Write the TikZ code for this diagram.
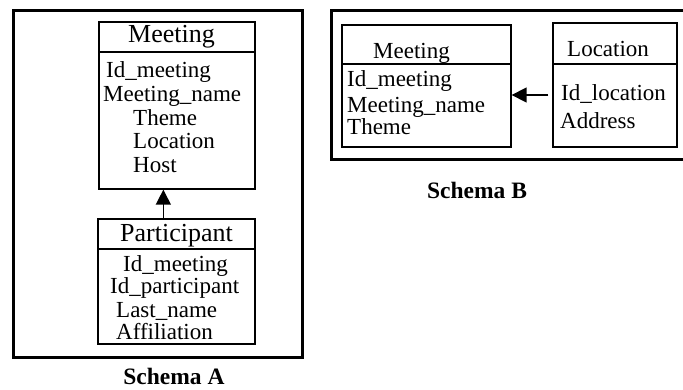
\documentclass[tikz,border=0pt]{standalone}
\usepackage{fontspec}
\setmainfont{Liberation Serif}
\usetikzlibrary{arrows.meta}
\begin{document}
\begin{tikzpicture}[x=1pt,y=-1pt,
  frame/.style={draw,line width=3pt},
  entity/.style={draw,line width=1.3pt,inner sep=0pt},
  attr/.style={inner sep=0pt,anchor=base west,font=\fontsize{23}{23}\selectfont},
  titleA/.style={inner sep=0pt,anchor=base west,font=\fontsize{26}{26}\selectfont},
  caption/.style={inner sep=0pt,anchor=base,font=\fontsize{23.5}{23.5}\selectfont\bfseries},
  link/.style={line width=1.4pt,-{Triangle[length=15pt,width=15pt]}}]
\clip (0,0) rectangle (683,390);
\fill[white] (0,0) rectangle (683,390);

% Schema A
\node[frame,minimum width=289pt,minimum height=346pt,inner sep=0pt] (frA) at (157.5,184) {};
\node[entity,minimum width=156pt,minimum height=167pt] (meetA) at (177,105.5) {};
\draw[line width=1.3pt] (meetA.west |- 0,52) -- (meetA.east |- 0,52);
\node[titleA] (meetAt) at (128,43) {Meeting};
\node[attr] (a1) at (106,78) {Id\_meeting};
\node[attr] (a2) at (103,102) {Meeting\_name};
\node[attr] (a3) at (133,125.5) {Theme};
\node[attr] (a4) at (133,149) {Location};
\node[attr] (a5) at (133,172.5) {Host};

\node[entity,minimum width=157pt,minimum height=125pt] (partA) at (176.5,281.5) {};
\draw[line width=1.3pt] (partA.west |- 0,249) -- (partA.east |- 0,249);
\node[titleA] (partAt) at (120,242) {Participant};
\node[attr] (p1) at (123,272) {Id\_meeting};
\node[attr] (p2) at (110,294) {Id\_participant};
\node[attr] (p3) at (116,317) {Last\_name};
\node[attr] (p4) at (116,339) {Affiliation};

\draw[link] ([xshift=66pt]partA.north west) -- ([xshift=65pt]meetA.south west);

\node[caption] (capA) at (174,384) {Schema A};

% Schema B
\node[frame,minimum width=380pt,minimum height=149pt,inner sep=0pt] (frB) at (521,85.5) {};
\node[entity,minimum width=169pt,minimum height=122pt] (meetB) at (426.5,86) {};
\draw[line width=1.3pt] (meetB.west |- 0,64) -- (meetB.east |- 0,64);
\node[attr] (meetBt) at (373,59) {Meeting};
\node[attr] (b1) at (347,87) {Id\_meeting};
\node[attr] (b2) at (347,112.5) {Meeting\_name};
\node[attr] (b3) at (347,135) {Theme};

\node[entity,minimum width=124pt,minimum height=124pt] (loc) at (615,85) {};
\draw[line width=1.3pt] (loc.west |- 0,64) -- (loc.east |- 0,64);
\node[attr] (loct) at (567,57) {Location};
\node[attr] (l1) at (561,101) {Id\_location};
\node[attr] (l2) at (560,129) {Address};

\draw[link] ([xshift=-4pt,yshift=-10pt]loc.west) -- ([yshift=-9pt]meetB.east);

\node[caption] (capB) at (477,199) {Schema B};
\end{tikzpicture}
\end{document}
